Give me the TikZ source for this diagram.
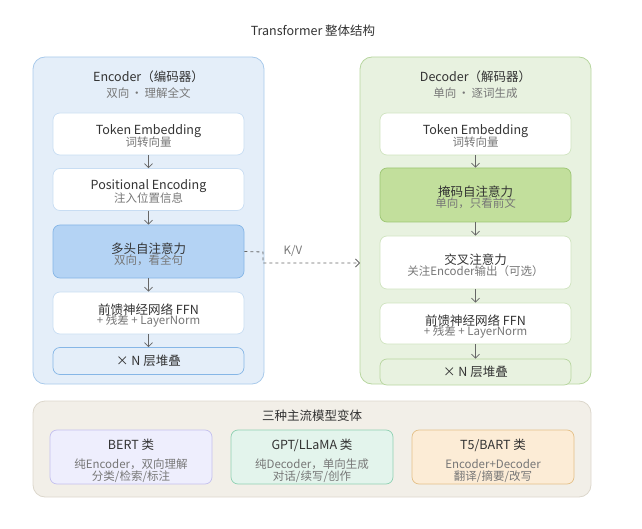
\documentclass[tikz,border=0pt]{standalone}
\usepackage{fontspec}
\setmainfont{Noto Sans CJK SC}
\usetikzlibrary{arrows.meta}

\definecolor{encbg}{HTML}{E4EEF9}
\definecolor{encline}{HTML}{A9CAEB}
\definecolor{encbox}{HTML}{C8DDF3}
\definecolor{attfill}{HTML}{B4D3F4}
\definecolor{attline}{HTML}{86B6E6}
\definecolor{decbg}{HTML}{E8F2E0}
\definecolor{decline}{HTML}{B8D6A0}
\definecolor{decbox}{HTML}{D0E4C0}
\definecolor{maskfill}{HTML}{C2DF9C}
\definecolor{maskline}{HTML}{9DC674}
\definecolor{varbg}{HTML}{F2EFE8}
\definecolor{varline}{HTML}{DCD7CC}
\definecolor{bertfill}{HTML}{EEEEFD}
\definecolor{bertline}{HTML}{C4C0EE}
\definecolor{gptfill}{HTML}{E3F4EC}
\definecolor{gptline}{HTML}{90D1B3}
\definecolor{tfivefill}{HTML}{FCECD6}
\definecolor{tfiveline}{HTML}{E4C088}
\definecolor{txt}{HTML}{333333}
\definecolor{subtxt}{HTML}{777777}
\definecolor{arr}{HTML}{666666}

\begin{document}
\begin{tikzpicture}[x=1pt,y=-1pt,
    panel/.style={rounded corners=12pt, line width=0.8pt},
    blk/.style={draw, rounded corners=7pt, line width=0.7pt, minimum width=191pt, inner sep=0pt},
    maintxt/.style={text=txt, font=\fontsize{12.5}{13}\selectfont, inner sep=0pt},
    subtxt/.style={text=subtxt, font=\fontsize{11.5}{12}\selectfont, inner sep=0pt},
    flow/.style={draw=arr, line width=0.8pt, -{Straight Barb[length=4pt,width=8pt]}}]
  \useasboundingbox (0,0) rectangle (642,529);

  \node[maintxt] (title) at (313,31) {Transformer 整体结构};

  % encoder
  \draw[panel, fill=encbg, draw=encline] (33,57) rectangle (264,384);
  \node[maintxt] (encT) at (148.5,77) {Encoder（编码器）};
  \node[subtxt] at (148.5,93) {双向\,·\,理解全文};

  \node[blk, fill=white, draw=encbox, minimum height=42pt] (encTok) at (148.5,134) {};
  \node[maintxt] at ([yshift=3pt]encTok.center) {Token Embedding};
  \node[subtxt] at ([yshift=-8.5pt]encTok.center) {词转向量};

  \node[blk, fill=white, draw=encbox, minimum height=42pt] (encPos) at (148.5,189.5) {};
  \node[maintxt] at ([yshift=3pt]encPos.center) {Positional Encoding};
  \node[subtxt] at ([yshift=-8.5pt]encPos.center) {注入位置信息};

  \node[blk, fill=attfill, draw=attline, minimum height=53pt] (encAtt) at (148.5,251.5) {};
  \node[maintxt] at ([yshift=3pt]encAtt.center) {多头自注意力};
  \node[subtxt] at ([yshift=-8.5pt]encAtt.center) {双向，看全句};

  \node[blk, fill=white, draw=encbox, minimum height=42pt] (encFfn) at (148.5,313) {};
  \node[maintxt] at ([yshift=3pt]encFfn.center) {前馈神经网络 FFN};
  \node[subtxt] at ([yshift=-8.5pt]encFfn.center) {+ 残差 + LayerNorm};

  \node[blk, fill=encbg, draw=attline, minimum height=27pt] (encN) at (148.5,361) {};
  \node[maintxt] at (encN.center) {× N 层堆叠};

  \draw[flow] (encTok) -- (encPos);
  \draw[flow] (encPos) -- (encAtt);
  \draw[flow] (encAtt) -- (encFfn);
  \draw[flow] (encFfn) -- (encN);

  % decoder
  \draw[panel, fill=decbg, draw=decline] (360,57) rectangle (591,384);
  \coordinate (decIn) at (360,263);
  \node[maintxt] (decT) at (475.5,77) {Decoder（解码器）};
  \node[subtxt] at (475.5,93) {单向\,·\,逐词生成};

  \node[blk, fill=white, draw=decbox, minimum height=42pt] (decTok) at (475.5,134) {};
  \node[maintxt] at ([yshift=3pt]decTok.center) {Token Embedding};
  \node[subtxt] at ([yshift=-8.5pt]decTok.center) {词转向量};

  \node[blk, fill=maskfill, draw=maskline, minimum height=54pt] (decMask) at (475.5,195) {};
  \node[maintxt] at ([yshift=3pt]decMask.center) {掩码自注意力};
  \node[subtxt] at ([yshift=-8.5pt]decMask.center) {单向，只看前文};

  \node[blk, fill=white, draw=decbox, minimum height=53pt] (decCross) at (475.5,262.5) {};
  \node[maintxt] at ([yshift=3pt]decCross.center) {交叉注意力};
  \node[subtxt] at ([yshift=-8.5pt]decCross.center) {关注Encoder输出（可选）};

  \node[blk, fill=white, draw=decbox, minimum height=41pt] (decFfn) at (475.5,323.5) {};
  \node[maintxt] at ([yshift=3pt]decFfn.center) {前馈神经网络 FFN};
  \node[subtxt] at ([yshift=-8.5pt]decFfn.center) {+ 残差 + LayerNorm};

  \node[blk, fill=decbg, draw=decline, minimum height=26pt] (decN) at (475.5,372) {};
  \node[maintxt] at (decN.center) {× N 层堆叠};

  \draw[flow] (decTok) -- (decMask);
  \draw[flow] (decMask) -- (decCross);
  \draw[flow] (decCross) -- (decFfn);
  \draw[flow] (decFfn) -- (decN);

  % K/V
  \draw[flow, dashed] (encAtt.east) -- (263,252) -- (263,263) -- (decIn);
  \node[subtxt] (kv) at (293,251) {K/V};

  % variants
  \draw[panel, fill=varbg, draw=varline] (33,401) rectangle (591,497);
  \node[maintxt] (varT) at (312,416) {三种主流模型变体};

  \node[blk, fill=bertfill, draw=bertline, minimum width=162pt, minimum height=54pt] (bert) at (131,457) {};
  \node[maintxt] at ([yshift=12pt]bert.center) {BERT 类};
  \node[subtxt] at ([yshift=-7pt]bert.center) {纯Encoder，双向理解};
  \node[subtxt] at ([yshift=-20pt]bert.center) {分类/检索/标注};

  \node[blk, fill=gptfill, draw=gptline, minimum width=162pt, minimum height=54pt] (gpt) at (312,457) {};
  \node[maintxt] at ([yshift=12pt]gpt.center) {GPT/LLaMA 类};
  \node[subtxt] at ([yshift=-7pt]gpt.center) {纯Decoder，单向生成};
  \node[subtxt] at ([yshift=-20pt]gpt.center) {对话/续写/创作};

  \node[blk, fill=tfivefill, draw=tfiveline, minimum width=162pt, minimum height=54pt] (t5) at (493,457) {};
  \node[maintxt] at ([yshift=12pt]t5.center) {T5/BART 类};
  \node[subtxt] at ([yshift=-7pt]t5.center) {Encoder+Decoder};
  \node[subtxt] at ([yshift=-20pt]t5.center) {翻译/摘要/改写};
\end{tikzpicture}
\end{document}
